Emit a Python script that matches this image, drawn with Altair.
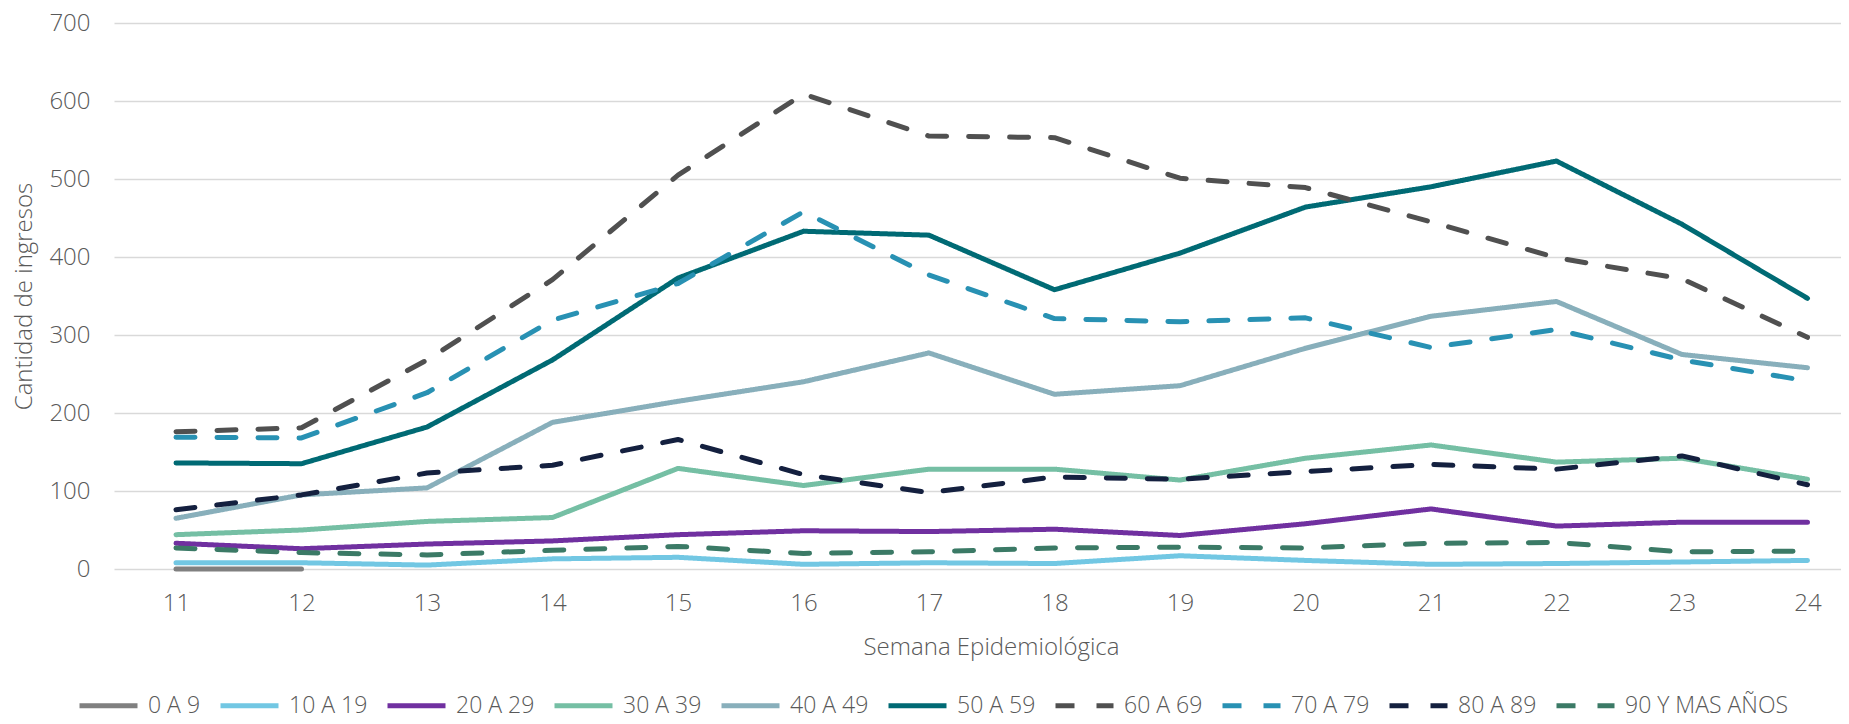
import altair as alt
import pandas as pd

weeks = list(range(11, 25))
series_names = ["0 A 9", "10 A 19", "20 A 29", "30 A 39", "40 A 49",
                "50 A 59", "60 A 69", "70 A 79", "80 A 89", "90 Y MAS AÑOS"]

s0_9 = [0, 0, None, None, None, None, None, None, None, None, None, None, None, None]
s10_19 = [8, 8, 5, 13, 15, 6, 8, 7, 17, 11, 6, 7, 9, 11]
s20_29 = [33, 26, 32, 36, 44, 49, 48, 51, 43, 58, 77, 55, 60, 60]
s30_39 = [44, 50, 61, 66, 129, 107, 128, 128, 114, 142, 159, 137, 142, 115]
s40_49 = [65, 95, 104, 188, 215, 240, 277, 224, 235, 283, 324, 343, 275, 258]
s50_59 = [136, 135, 182, 268, 373, 433, 428, 358, 405, 464, 490, 523, 442, 347]
s60_69 = [176, 181, 268, 371, 505, 609, 555, 553, 501, 489, 445, 399, 372, 297]
s70_79 = [169, 168, 226, 319, 366, 458, 377, 321, 317, 322, 284, 307, 268, 241]
s80_89 = [76, 95, 123, 133, 166, 121, 98, 118, 115, 125, 134, 128, 145, 108]
s90 = [27, 21, 18, 24, 29, 20, 22, 27, 28, 27, 33, 34, 22, 23]

all_values = [s0_9, s10_19, s20_29, s30_39, s40_49, s50_59, s60_69, s70_79, s80_89, s90]

colors = ["#808080", "#72C7E3", "#7030A0", "#75BFA4", "#88AFBB",
          "#006A74", "#505050", "#2891B3", "#14203F", "#3B7A66"]
solid = [1, 0]
dashed = [19, 22]
dashes = [solid] * 6 + [dashed] * 4

y_ticks = [0, 100, 200, 300, 400, 500, 600, 700]

rows = []
for order, (name, vals) in enumerate(zip(series_names, all_values)):
    for w, v in zip(weeks, vals):
        if v is not None:
            rows.append({"semana": w, "grupo": name, "ingresos": v, "orden": order})
df = pd.DataFrame(rows)

FONT = "Open Sans"
TXT = "#595959"

chart = alt.Chart(df).mark_line(
    strokeWidth=5, strokeCap="round", strokeJoin="round"
).encode(
    x=alt.X("semana:Q",
            scale=alt.Scale(domain=[10.506, 24.267], nice=False, zero=False),
            axis=alt.Axis(values=weeks, format="d", title="Semana Epidemiológica",
                          grid=False, domain=False, ticks=False, tickSize=0,
                          labelPadding=22, labelFlush=False, labelOverlap=False,
                          titleX=877, titleY=78, titleBaseline="middle",
                          titleAlign="center")),
    y=alt.Y("ingresos:Q",
            scale=alt.Scale(domain=[0, 700], nice=False),
            axis=alt.Axis(values=y_ticks, title="Cantidad de ingresos",
                          grid=True, domain=False, ticks=False, tickSize=0,
                          labelPadding=24, titleX=-90, titleY=273, titleAngle=270,
                          titleBaseline="middle", titleAlign="center")),
    color=alt.Color("grupo:N", sort=series_names,
                    scale=alt.Scale(domain=series_names, range=colors),
                    legend=alt.Legend(title=None)),
    strokeDash=alt.StrokeDash("grupo:N", sort=series_names,
                              scale=alt.Scale(domain=series_names, range=dashes),
                              legend=alt.Legend(title=None)),
    order=alt.Order("orden:Q"),
).properties(
    width=1727, height=546,
    autosize=alt.AutoSizeParams(type="none"),
    padding={"left": 106, "top": 15, "right": 0, "bottom": 145},
).configure_view(
    stroke=None
).configure_axis(
    labelFont=FONT, labelFontSize=24, labelColor=TXT, labelFontWeight=300,
    titleFont=FONT, titleFontSize=24, titleColor=TXT, titleFontWeight=300,
    gridColor="#D9D9D9", gridWidth=1.6,
).configure_legend(
    orient="none", legendX=-37, legendY=651, direction="horizontal", columns=10,
    symbolType="stroke", symbolSize=3364, symbolStrokeWidth=5,
    labelFont=FONT, labelFontSize=23, labelColor=TXT, labelFontWeight=300,
    labelOffset=8, columnPadding=9, padding=0, labelLimit=400,
)

chart.save("out.html", embed_options={"renderer": "svg", "actions": False})
